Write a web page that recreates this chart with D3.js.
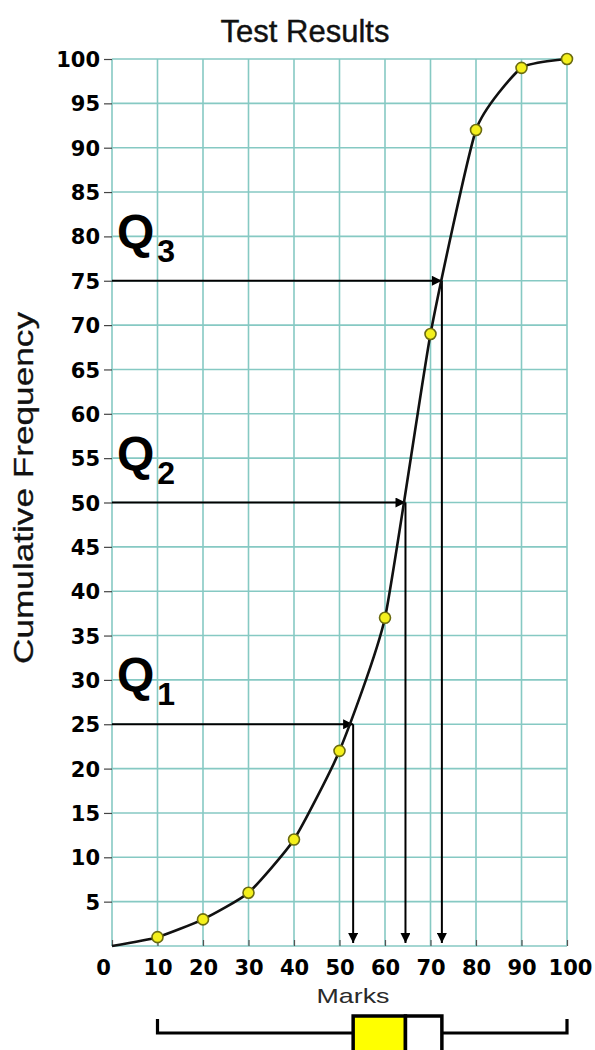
<!DOCTYPE html>
<html><head><meta charset="utf-8">
<script src="https://cdn.jsdelivr.net/npm/d3@7"></script>
<style>body{margin:0;background:#fff}svg{display:block}</style>
</head><body>
<svg id="c" width="595" height="1050"></svg>
<script>
const marks = [0, 10, 20, 30, 40, 50, 60, 70, 80, 90, 100];
const cumFreq = [0, 1, 3, 6, 12, 22, 37, 69, 92, 99, 100];
const markerMarks = [10, 20, 30, 40, 50, 60, 70, 80, 90, 100];
const xTicks = [0, 10, 20, 30, 40, 50, 60, 70, 80, 90, 100];
const yTicks = [5, 10, 15, 20, 25, 30, 35, 40, 45, 50, 55, 60, 65, 70, 75, 80, 85, 90, 95, 100];
const quartileLevels = [25, 50, 75];
const quartileMarks = [53, 64.5, 72.5];
const quartileNames = ["1", "2", "3"];
const boxStats = [10, 53, 64.5, 72.5, 100]; // min, Q1, median, Q3, max

const svg = d3.select("#c");
const x = d3.scaleLinear().domain([0, 100]).range([112, 567]);
const y = d3.scaleLinear().domain([0, 100]).range([946, 59]);
const grid = "#86c9c3";

// grid
svg.append("g").selectAll("line").data(xTicks).join("line")
  .attr("x1", d => x(d)).attr("x2", d => x(d)).attr("y1", y(0)).attr("y2", y(100))
  .attr("stroke", grid).attr("stroke-width", 1.6);
svg.append("g").selectAll("line").data([0, ...yTicks]).join("line")
  .attr("x1", x(0)).attr("x2", x(100)).attr("y1", d => y(d)).attr("y2", d => y(d))
  .attr("stroke", grid).attr("stroke-width", 1.6);

// y axis
const ya = svg.append("g").attr("transform", `translate(${x(0)},0)`)
  .call(d3.axisLeft(y).tickValues(yTicks).tickSize(8).tickPadding(4));
ya.select(".domain").remove();
ya.selectAll("line").attr("stroke", "#444").attr("stroke-width", 1.2);
ya.selectAll("text").attr("font-family", "DejaVu Sans").attr("font-weight", "bold")
  .attr("font-size", 21).attr("fill", "#000").attr("dy", "0.36em");

// x axis
const xa = svg.append("g").attr("transform", `translate(0,${y(0)})`)
  .call(d3.axisBottom(x).tickValues(xTicks).tickSize(-6).tickPadding(14));
xa.select(".domain").remove();
xa.selectAll("line").attr("stroke", "#555").attr("stroke-width", 1.2);
xa.selectAll("text").attr("font-family", "DejaVu Sans").attr("font-weight", "bold")
  .attr("font-size", 21).attr("fill", "#000")
  .attr("dx", (d, i) => i === 0 ? -9 : (d === 100 ? 3 : 0));

// title
svg.append("text").attr("x", 305).attr("y", 42).attr("text-anchor", "middle")
  .attr("font-family", "Liberation Sans, Arial").attr("font-size", 31).attr("fill", "#111")
  .attr("stroke", "#111").attr("stroke-width", 0.4)
  .text("Test Results");

// y label
svg.append("text").attr("transform", "translate(33,488) rotate(-90)").attr("text-anchor", "middle")
  .attr("font-family", "Liberation Sans, Arial").attr("font-size", 28).attr("fill", "#111")
  .attr("stroke", "#111").attr("stroke-width", 0.3)
  .attr("textLength", 352).attr("lengthAdjust", "spacingAndGlyphs")
  .text("Cumulative Frequency");

// x label
svg.append("text").attr("x", 353).attr("y", 1003).attr("text-anchor", "middle")
  .attr("font-family", "Liberation Sans, Arial").attr("font-size", 21).attr("fill", "#2a2a2a")
  .attr("textLength", 73).attr("lengthAdjust", "spacingAndGlyphs")
  .text("Marks");

// arrow marker
const defs = svg.append("defs");
defs.append("marker").attr("id", "ah").attr("viewBox", "0 0 10 10").attr("refX", 10).attr("refY", 5)
  .attr("markerWidth", 13).attr("markerHeight", 10).attr("markerUnits", "userSpaceOnUse")
  .attr("orient", "auto").append("path").attr("d", "M0,0L10,5L0,10Z").attr("fill", "#000");

// quartile arrows
const qs = quartileLevels.map((v, i) => ({ v, m: quartileMarks[i], n: quartileNames[i] }));
svg.append("g").selectAll("line").data(qs).join("line")
  .attr("x1", x(0)).attr("x2", d => x(d.m)).attr("y1", d => y(d.v)).attr("y2", d => y(d.v))
  .attr("stroke", "#000").attr("stroke-width", 2).attr("marker-end", "url(#ah)");
svg.append("g").selectAll("line").data(qs).join("line")
  .attr("x1", d => x(d.m)).attr("x2", d => x(d.m)).attr("y1", d => y(d.v)).attr("y2", y(0) - 3)
  .attr("stroke", "#000").attr("stroke-width", 2).attr("marker-end", "url(#ah)");

// Q labels
const ql = svg.append("g").selectAll("text").data(qs).join("text")
  .attr("x", 117).attr("y", d => y(d.v + 3.7))
  .attr("font-family", "Liberation Sans, Arial").attr("font-weight", "bold").attr("font-size", 48).attr("fill", "#000");
ql.append("tspan").text("Q");
ql.append("tspan").attr("dx", 3).attr("dy", 14).attr("font-size", 32).text(d => d.n);

// curve
const pts = marks.map((m, i) => [m, cumFreq[i]]);
svg.append("path").datum(pts)
  .attr("d", d3.line().x(d => x(d[0])).y(d => y(d[1])).curve(d3.curveCardinal.tension(0.5)))
  .attr("fill", "none").attr("stroke", "#111").attr("stroke-width", 2.6);

// markers
svg.append("g").selectAll("circle").data(pts.filter(p => markerMarks.includes(p[0]))).join("circle")
  .attr("cx", d => x(d[0])).attr("cy", d => y(d[1])).attr("r", 5.5)
  .attr("fill", "#f4f01c").attr("stroke", "#6b6b10").attr("stroke-width", 1.6);

// box plot
const by = 1033;
const bp = svg.append("g");
bp.append("path")
  .attr("d", `M${x(boxStats[0])},${by - 14}V${by}H${x(boxStats[1])}M${x(boxStats[3])},${by}H${x(boxStats[4])}V${by - 14}`)
  .attr("fill", "none").attr("stroke", "#000").attr("stroke-width", 3.2);
bp.append("rect").attr("x", x(boxStats[1])).attr("y", 1016)
  .attr("width", x(boxStats[2]) - x(boxStats[1])).attr("height", 50)
  .attr("fill", "#ffff00").attr("stroke", "#000").attr("stroke-width", 3.5);
bp.append("rect").attr("x", x(boxStats[2])).attr("y", 1016)
  .attr("width", x(boxStats[3]) - x(boxStats[2])).attr("height", 50)
  .attr("fill", "#fff").attr("stroke", "#000").attr("stroke-width", 3.5);
</script>
</body></html>
